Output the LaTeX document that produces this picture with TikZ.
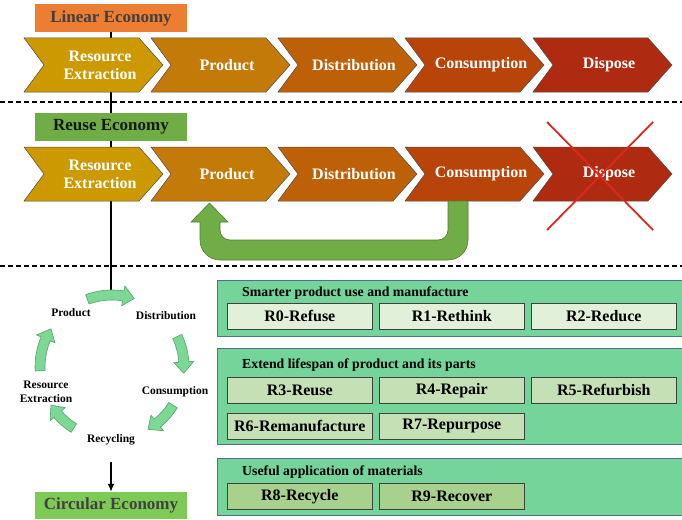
\documentclass[tikz,border=0pt]{standalone}
\usepackage{fontspec}
\setmainfont{Liberation Serif}
\usetikzlibrary{arrows.meta}
\definecolor{cA}{RGB}{204,153,0}
\definecolor{cB}{RGB}{196,122,8}
\definecolor{cC}{RGB}{190,96,8}
\definecolor{cD}{RGB}{184,68,10}
\definecolor{cE}{RGB}{174,42,16}
\definecolor{linOrange}{RGB}{237,125,49}
\definecolor{reuseGreen}{RGB}{112,173,71}
\definecolor{reuseEdge}{RGB}{80,126,50}
\definecolor{circGreen}{RGB}{125,203,85}
\definecolor{grpFill}{RGB}{116,212,154}
\definecolor{grpEdge}{RGB}{80,110,150}
\definecolor{rA}{RGB}{226,240,217}
\definecolor{rB}{RGB}{197,224,180}
\definecolor{rC}{RGB}{169,209,142}
\definecolor{arrFill}{RGB}{125,216,150}
\definecolor{arrEdge}{RGB}{80,165,100}
\definecolor{xRed}{RGB}{222,40,30}
\definecolor{darkText}{RGB}{64,64,64}
\newcommand\chevron[5]{%
  \filldraw[chevshape, fill=#4] (#2,#3) -- ++(115,0) -- ++(24,27) -- ++(-24,27) -- ++(-115,0) -- ++(20,-27) -- cycle;
  \node[chevtext] (#1) at ({#2+76},{#3+27}) {#5};
}
\newcommand\carr[2]{%
  \pgfmathsetmacro\ha{#2+9}%
  \filldraw[circarrow] (#1:77) arc[start angle=#1, end angle=\ha, radius=77] -- (\ha:82) -- (#2:72) -- (\ha:62) -- (\ha:67) arc[start angle=\ha, end angle=#1, radius=67] -- cycle;
}
\begin{document}
\begin{tikzpicture}[x=1pt,y=-1pt,
  chevshape/.style={draw=black!70, line width=0.5pt},
  chevtext/.style={text=white, font=\bfseries\fontsize{16}{18}\selectfont, align=center, inner sep=0pt},
  ecobox/.style={minimum width=152, minimum height=28, inner sep=0pt, font=\bfseries\fontsize{17}{19}\selectfont},
  dline/.style={line width=1.1pt, dash pattern=on 5pt off 3pt},
  circarrow/.style={fill=arrFill, draw=arrEdge, line width=0.6pt},
  clabel/.style={font=\bfseries\fontsize{11.5}{14}\selectfont, align=center, inner sep=0pt},
  grp/.style={draw=grpEdge, line width=0.8pt, fill=grpFill, minimum width=465, anchor=north west, inner sep=0pt},
  grptitle/.style={anchor=west, font=\bfseries\fontsize{13.8}{16}\selectfont, inner sep=0pt},
  rbox/.style={draw=black!75, line width=0.6pt, minimum width=145, minimum height=26, anchor=north west, inner sep=0pt, font=\bfseries\fontsize{16}{18}\selectfont}
]
\useasboundingbox (0,0) rectangle (682,519);
\fill[white] (0,0) rectangle (682,519);

% spine line
\coordinate (vtop) at (111,32);
\coordinate (vend) at (111,293);
\draw[line width=1.5pt] (vtop) -- (vend);

% dashed separators
\coordinate (d1a) at (0,102); \coordinate (d1b) at (682,102);
\coordinate (d2a) at (0,266); \coordinate (d2b) at (682,266);
\draw[dline] (d1a) -- (d1b);
\draw[dline] (d2a) -- (d2b);

% Linear economy
\node[ecobox, fill=linOrange, text=darkText] (lin) at (111,18) {Linear Economy};
\chevron{l1}{24}{38}{cA}{Resource\\Extraction}
\chevron{l2}{151}{38}{cB}{Product}
\chevron{l3}{278}{38}{cC}{Distribution}
\chevron{l4}{405}{38}{cD}{Consumption}
\chevron{l5}{533}{38}{cE}{Dispose}

% Reuse economy
\node[ecobox, fill=reuseGreen, text=black!90] (reu) at (111,127) {Reuse Economy};
\chevron{u1}{24}{147}{cA}{Resource\\Extraction}
\chevron{u2}{151}{147}{cB}{Product}
\chevron{u3}{278}{147}{cC}{Distribution}
\chevron{u4}{405}{147}{cD}{Consumption}
\chevron{u5}{533}{147}{cE}{Dispose}

% U-shaped return arrow
\filldraw[fill=reuseGreen, draw=reuseEdge, line width=0.6pt]
  (448,201) -- (448,230) arc[start angle=0, end angle=90, radius=10]
  -- (230,240) arc[start angle=90, end angle=180, radius=10]
  -- (220,222) -- (228,222) -- (209.5,203) -- (191,222) -- (200,222)
  -- (200,240) arc[start angle=180, end angle=90, radius=20]
  -- (448,260) arc[start angle=90, end angle=0, radius=20]
  -- (468,201) -- cycle;

% red cross over Dispose
\draw[xRed, line width=1.8pt] (547,122) -- (653,230);
\draw[xRed, line width=1.8pt] (653,122) -- (547,230);

% circular cycle
\begin{scope}[shift={(112,367)}, yscale=-1]
  \carr{110}{72}
  \carr{25}{-5}
  \carr{-32}{-60}
  \carr{-122}{-148}
  \carr{183}{148}
\end{scope}
\node[clabel] (cp) at (71,313) {Product};
\node[clabel] (cd) at (166,316) {Distribution};
\node[clabel] (cc) at (175,392) {Consumption};
\node[clabel] (cr) at (111,440) {Recycling};
\node[clabel] (ce) at (46,392) {Resource\\Extraction};

% Circular economy
\node[ecobox, fill=circGreen, text=darkText, minimum height=27] (circ) at (111,505.5) {Circular Economy};
\coordinate (astart) at (111,462);
\draw[line width=1.5pt, -{Latex[length=8pt,width=7pt]}] (astart) -- (circ.north);

% R groups
\node[grp, fill=grpFill, minimum height=56] (g1) at (217,280) {};
\node[grptitle] (t1) at (242,293) {Smarter product use and manufacture};
\node[rbox, fill=rA] (r0) at (227,303) {R0-Refuse};
\node[rbox, fill=rA] (r1) at (379,303) {R1-Rethink};
\node[rbox, fill=rA] (r2) at (531,303) {R2-Reduce};

\node[grp, minimum height=96] (g2) at (217,348) {};
\node[grptitle] (t2) at (242,365) {Extend lifespan of product and its parts};
\node[rbox, fill=rB] (r3) at (227,377) {R3-Reuse};
\node[rbox, fill=rB] (r4) at (379,377) {R4-Repair};
\node[rbox, fill=rB] (r5) at (531,377) {R5-Refurbish};
\node[rbox, fill=rB] (r6) at (227,413) {R6-Remanufacture};
\node[rbox, fill=rB] (r7) at (379,413) {R7-Repurpose};

\node[grp, minimum height=57] (g3) at (217,458) {};
\node[grptitle] (t3) at (242,472) {Useful application of materials};
\node[rbox, fill=rC] (r8) at (227,483) {R8-Recycle};
\node[rbox, fill=rC] (r9) at (379,483) {R9-Recover};
\end{tikzpicture}
\end{document}
